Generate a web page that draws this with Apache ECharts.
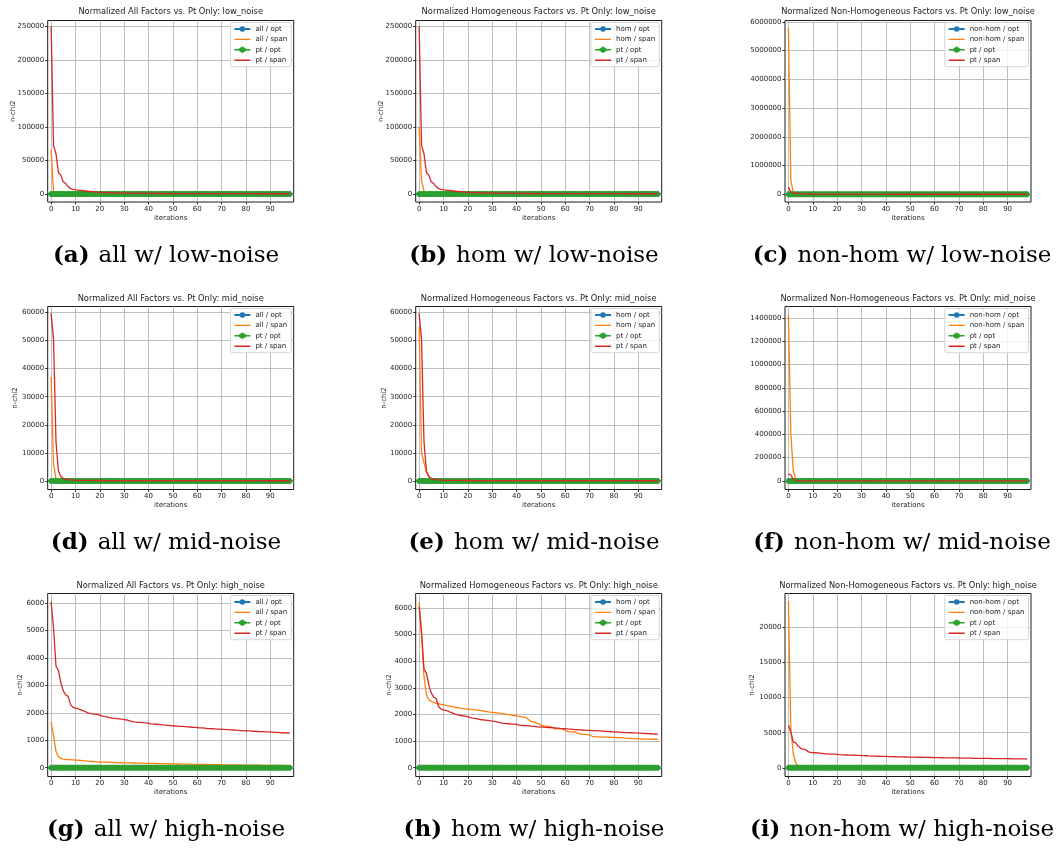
<!DOCTYPE html>
<html><head><meta charset="utf-8">
<script src="https://cdn.jsdelivr.net/npm/echarts@6/dist/echarts.min.js"></script>
<style>html,body{margin:0;padding:0;background:#fff}#c{width:1061px;height:852px}</style>
</head><body><div id="c"></div>
<script>
// ---------------- data ----------------
const iterations = [0,1,2,3,4,5,6,7,8,9,10,11,12,13,14,15,16,17,18,19,20,21,22,23,24,25,26,27,28,29,30,31,32,33,34,35,36,37,38,39,40,41,42,43,44,45,46,47,48,49,50,51,52,53,54,55,56,57,58,59,60,61,62,63,64,65,66,67,68,69,70,71,72,73,74,75,76,77,78,79,80,81,82,83,84,85,86,87,88,89,90,91,92,93,94,95,96,97,98];
const xTicks = [0,10,20,30,40,50,60,70,80,90];
const yTicksLow = [0,50000,100000,150000,200000,250000];
const yTicksNonHomLow = [0,1000000,2000000,3000000,4000000,5000000,6000000];
const yTicksMid = [0,10000,20000,30000,40000,50000,60000];
const yTicksNonHomMid = [0,200000,400000,600000,800000,1000000,1200000,1400000];
const yTicksHigh = [0,1000,2000,3000,4000,5000,6000];
const yTicksNonHomHigh = [0,5000,10000,15000,20000];

const factorOpt = [0,0,0,0,0,0,0,0,0,0,0,0,0,0,0,0,0,0,0,0,0,0,0,0,0,0,0,0,0,0,0,0,0,0,0,0,0,0,0,0,0,0,0,0,0,0,0,0,0,0,0,0,0,0,0,0,0,0,0,0,0,0,0,0,0,0,0,0,0,0,0,0,0,0,0,0,0,0,0,0,0,0,0,0,0,0,0,0,0,0,0,0,0,0,0,0,0,0,0];
const ptOpt = [0,0,0,0,0,0,0,0,0,0,0,0,0,0,0,0,0,0,0,0,0,0,0,0,0,0,0,0,0,0,0,0,0,0,0,0,0,0,0,0,0,0,0,0,0,0,0,0,0,0,0,0,0,0,0,0,0,0,0,0,0,0,0,0,0,0,0,0,0,0,0,0,0,0,0,0,0,0,0,0,0,0,0,0,0,0,0,0,0,0,0,0,0,0,0,0,0,0,0];

const ptSpanLow = [250000,72000,60000,32000,28000,18000,15500,11000,8000,6800,
 6000,5600,5200,4800,4400,4000,3700,3400,3100,2800,
 2500,2300,2100,1900,1750,1600,1500,1400,1300,1200,
 1150,1100,1050,1000,960,920,880,850,820,790,
 760,740,720,700,680,660,640,625,610,595,
 580,565,550,540,530,520,510,500,490,480,
 470,462,455,448,441,434,427,420,414,408,
 402,396,390,385,380,375,370,365,360,355,
 350,346,342,338,334,330,326,322,318,314,
 310,307,304,301,298,295,292,289,286];
const allSpanLow = [66000,3500,1500,1000,800,700,650,600,560,530,
 500,480,460,445,430,415,400,390,380,370,
 360,352,344,336,328,320,313,306,299,292,
 286,280,274,268,262,257,252,247,242,237,
 232,228,224,220,216,212,208,204,200,197,
 194,191,188,185,182,179,176,173,170,168,
 166,164,162,160,158,156,154,152,150,148,
 146,144,142,140,138,137,136,135,134,133,
 132,131,130,129,128,127,126,125,124,123,
 122,121,120,119,118,117,116,115,114];
const homSpanLow = [100000,20000,4000,1800,1200,1000,900,820,760,710,
 670,640,610,585,560,540,520,500,485,470,
 455,442,430,418,406,395,384,374,364,355,
 346,338,330,322,314,307,300,293,287,281,
 275,270,265,260,255,250,245,241,237,233,
 229,225,221,218,215,212,209,206,203,200,
 197,195,193,191,189,187,185,183,181,179,
 177,175,173,171,169,168,167,166,165,164,
 163,162,161,160,159,158,157,156,155,154,
 153,152,151,150,149,148,147,146,145];
const nonHomSpanLow = [5780000,480000,80000,22000,9000,6000,5000,4500,4100,3800,
 3500,3300,3100,2950,2800,2650,2500,2400,2300,2200,
 2100,2020,1940,1870,1800,1740,1680,1620,1570,1520,
 1470,1430,1390,1350,1310,1280,1250,1220,1190,1160,
 1130,1100,1080,1060,1040,1020,1000,980,960,940,
 920,905,890,875,860,845,830,815,800,790,
 780,770,760,750,740,730,720,710,700,692,
 684,676,668,660,652,645,638,631,624,617,
 610,604,598,592,586,580,575,570,565,560,
 555,550,545,540,535,530,525,520,515];

const ptSpanMid = [59700,50500,14000,3500,1600,900,600,430,330,270,
 230,205,190,178,168,160,153,147,142,137,
 133,129,126,123,120,117,114,112,110,108,
 106,104,102,100,98,96,95,94,93,92,
 91,90,89,88,87,86,85,84,83,82,
 81,80,79,78,77,76,75,74,73,72,
 71,70,69,69,68,68,67,67,66,66,
 65,65,64,64,63,63,62,62,61,61,
 60,60,59,59,58,58,57,57,56,56,
 55,55,54,54,53,53,52,52,51];
const allSpanMid = [37000,6000,700,350,250,200,170,150,135,125,
 118,112,107,103,99,95,92,89,86,83,
 80,78,76,74,72,70,68,66,64,62,
 60,59,58,57,56,55,54,53,52,51,
 50,49,48,47,46,45,44,43,42,41,
 40,40,39,39,38,38,37,37,36,36,
 35,35,34,34,33,33,32,32,31,31,
 30,30,30,29,29,29,28,28,28,27,
 27,27,26,26,26,25,25,25,24,24,
 24,23,23,23,22,22,22,21,21];
const homSpanMid = [55000,10000,6500,3000,1500,800,500,350,260,210,
 180,160,145,135,127,120,114,109,104,100,
 96,93,90,87,84,81,79,77,75,73,
 71,69,67,65,63,62,61,60,59,58,
 57,56,55,54,53,52,51,50,49,48,
 47,46,45,45,44,44,43,43,42,42,
 41,41,40,40,39,39,38,38,37,37,
 36,36,36,35,35,35,34,34,34,33,
 33,33,32,32,32,31,31,31,30,30,
 30,29,29,29,28,28,28,27,27];
const nonHomSpanMid = [1430000,400000,90000,14000,4000,2500,1900,1600,1400,1250,
 1150,1080,1020,970,920,880,840,800,770,740,
 710,690,670,650,630,610,595,580,565,550,
 540,530,520,510,500,490,480,470,462,454,
 446,438,430,422,415,408,401,394,388,382,
 376,370,365,360,355,350,345,340,336,332,
 328,324,320,316,312,308,304,300,297,294,
 291,288,285,282,279,276,273,270,268,266,
 264,262,260,258,256,254,252,250,248,246,
 244,242,240,238,236,234,232,230,228];

const ptSpanHigh = [6050,5100,3700,3550,3100,2800,2650,2600,2300,2200,
 2170,2150,2120,2080,2050,2000,1980,1960,1950,1940,
 1920,1880,1860,1850,1830,1810,1800,1790,1780,1770,
 1750,1740,1720,1690,1670,1665,1655,1650,1640,1635,
 1625,1600,1590,1585,1580,1570,1560,1555,1545,1535,
 1525,1520,1515,1510,1505,1500,1490,1485,1475,1470,
 1465,1455,1450,1440,1430,1425,1420,1415,1410,1405,
 1400,1395,1390,1385,1380,1375,1368,1362,1355,1350,
 1345,1340,1335,1330,1325,1320,1316,1312,1308,1304,
 1300,1295,1290,1285,1280,1275,1270,1265,1260];
const allSpanHigh = [1680,1150,600,400,340,315,305,298,292,286,
 280,272,264,256,248,238,232,226,220,214,
 208,205,202,199,196,193,190,187,184,182,
 180,178,176,174,172,170,168,166,164,162,
 160,158,156,154,152,150,148,146,144,142,
 140,138,136,134,132,130,128,126,124,123,
 122,120,119,118,117,115,114,113,112,110,
 108,107,106,105,104,103,102,100,98,97,
 96,95,94,93,92,91,90,89,88,87,
 86,85,84,83,82,81,80,79,78];
const homSpanHigh = [6200,5000,3430,2740,2550,2490,2450,2420,2400,2380,
 2360,2340,2320,2300,2280,2260,2250,2235,2220,2210,
 2200,2190,2180,2170,2160,2150,2135,2120,2105,2090,
 2080,2070,2058,2046,2034,2020,2005,1990,1975,1960,
 1945,1930,1915,1900,1880,1800,1740,1720,1680,1650,
 1600,1570,1560,1550,1545,1500,1460,1455,1455,1450,
 1400,1360,1345,1345,1340,1300,1270,1255,1250,1245,
 1230,1180,1165,1160,1155,1150,1148,1146,1144,1142,
 1140,1135,1130,1125,1120,1110,1104,1098,1092,1086,
 1080,1078,1076,1074,1072,1070,1069,1068,1067];
const nonHomSpanHigh = [23700,5500,2000,700,250,140,110,100,95,90,
 86,83,80,78,76,74,72,70,69,68,
 67,66,65,64,63,62,61,60,59,58,
 57,57,56,56,55,55,54,54,53,53,
 52,52,51,51,50,50,49,49,48,48,
 47,47,47,46,46,46,45,45,45,44,
 44,44,43,43,43,42,42,42,41,41,
 41,40,40,40,39,39,39,38,38,38,
 37,37,37,36,36,36,35,35,35,34,
 34,34,33,33,33,32,32,32,31];

// ---------------- panels ----------------
const panels = [
 {r:0,c:0,lab:'(a)',cap:'all w/ low-noise',f:'all',title:'Normalized All Factors vs. Pt Only: low_noise',span:allSpanLow,pt:ptSpanLow,yMin:-12000,yMax:258500,ticks:yTicksLow,yName:'n-chi2',gap:31},
 {r:0,c:1,lab:'(b)',cap:'hom w/ low-noise',f:'hom',title:'Normalized Homogeneous Factors vs. Pt Only: low_noise',span:homSpanLow,pt:ptSpanLow,yMin:-12000,yMax:258500,ticks:yTicksLow,yName:'n-chi2',gap:31},
 {r:0,c:2,lab:'(c)',cap:'non-hom w/ low-noise',f:'non-hom',title:'Normalized Non-Homogeneous Factors vs. Pt Only: low_noise',span:nonHomSpanLow,pt:ptSpanLow,yMin:-270000,yMax:6050000,ticks:yTicksNonHomLow,yName:'',gap:40},
 {r:1,c:0,lab:'(d)',cap:'all w/ mid-noise',f:'all',title:'Normalized All Factors vs. Pt Only: mid_noise',span:allSpanMid,pt:ptSpanMid,yMin:-3070,yMax:62140,ticks:yTicksMid,yName:'n-chi2',gap:29},
 {r:1,c:1,lab:'(e)',cap:'hom w/ mid-noise',f:'hom',title:'Normalized Homogeneous Factors vs. Pt Only: mid_noise',span:homSpanMid,pt:ptSpanMid,yMin:-3070,yMax:62140,ticks:yTicksMid,yName:'n-chi2',gap:28.5},
 {r:1,c:2,lab:'(f)',cap:'non-hom w/ mid-noise',f:'non-hom',title:'Normalized Non-Homogeneous Factors vs. Pt Only: mid_noise',span:nonHomSpanMid,pt:ptSpanMid,yMin:-74000,yMax:1500000,ticks:yTicksNonHomMid,yName:'',gap:40},
 {r:2,c:0,lab:'(g)',cap:'all w/ high-noise',f:'all',title:'Normalized All Factors vs. Pt Only: high_noise',span:allSpanHigh,pt:ptSpanHigh,yMin:-320,yMax:6350,ticks:yTicksHigh,yName:'n-chi2',gap:24},
 {r:2,c:1,lab:'(h)',cap:'hom w/ high-noise',f:'hom',title:'Normalized Homogeneous Factors vs. Pt Only: high_noise',span:homSpanHigh,pt:ptSpanHigh,yMin:-330,yMax:6540,ticks:yTicksHigh,yName:'n-chi2',gap:23},
 {r:2,c:2,lab:'(i)',cap:'non-hom w/ high-noise',f:'non-hom',title:'Normalized Non-Homogeneous Factors vs. Pt Only: high_noise',span:nonHomSpanHigh,pt:ptSpanHigh,yMin:-1230,yMax:24800,ticks:yTicksNonHomHigh,yName:'n-chi2',gap:29}
];
const cols = [{left:47.7,cx:166},{left:415.7,cx:534},{left:785,cx:902}];
const rows = [{top:20.5,h:181.5,tc:13.3,capC:257.5},{top:306.5,h:183,tc:300,capC:545},{top:593.5,h:183,tc:586.7,capC:832}];
const W = 246, CW = 1061;
const C = {blue:'#1f77b4',orange:'#ff7f0e',green:'#2ca02c',red:'#d62728'};
const plusPath = 'path://M3,0H7V3H10V7H7V10H3V7H0V3H3Z';
const lineIcon = 'path://M0,0L0,0ZM0,2.8H16V4.2H0ZM16,7L16,7Z';
const errIcon = 'path://M0,2.8H16V4.2H0ZM5.8,1H10.2V6H5.8ZM4.5,2H11.5V5H4.5ZM7.5,0H8.5V7H7.5Z';
const FS = 'DejaVu Sans';
const txt = '#222';
const pairs = arr => arr.map((v,i)=>[iterations[i], v]);

const grid=[],xAxis=[],yAxis=[],series=[],title=[],legend=[];
panels.forEach((p,i)=>{
  const col=cols[p.c], row=rows[p.r];
  grid.push({left:col.left,top:row.top,width:W,height:row.h,show:true,borderColor:'#000',borderWidth:0.9,backgroundColor:'transparent'});
  const axCommon = {
    axisLine:{show:false,onZero:false},
    axisTick:{show:true,length:2.5,lineStyle:{color:'#000',width:0.8}},
    splitLine:{show:true,lineStyle:{color:'#b8b8b8',width:0.9}},
    nameTextStyle:{fontSize:7,fontFamily:FS,color:txt},
    nameMoveOverlap:false
  };
  xAxis.push(Object.assign({},axCommon,{type:'value',gridIndex:i,min:-1.4,max:99.6,name:'iterations',nameLocation:'middle',nameGap:12.5,
    axisTick:Object.assign({},axCommon.axisTick,{customValues:xTicks}),
    axisLabel:{customValues:xTicks,fontSize:7,fontFamily:FS,color:txt,margin:3.5,formatter:v=>String(v)}}));
  yAxis.push(Object.assign({},axCommon,{type:'value',gridIndex:i,min:p.yMin,max:p.yMax,name:p.yName,nameLocation:'middle',nameGap:p.gap,
    axisTick:Object.assign({},axCommon.axisTick,{customValues:p.ticks}),
    axisLabel:{customValues:p.ticks,fontSize:7,fontFamily:FS,color:txt,margin:3.5,formatter:v=>String(v)}}));
  const names=[p.f+' / opt',p.f+' / span','pt / opt','pt / span'];
  series.push({type:'line',name:names[0],xAxisIndex:i,yAxisIndex:i,data:pairs(factorOpt),symbol:'circle',symbolSize:5,showSymbol:true,
    lineStyle:{color:C.blue,width:1.3},itemStyle:{color:C.blue},z:2,silent:true});
  series.push({type:'line',name:names[1],xAxisIndex:i,yAxisIndex:i,data:pairs(p.span),symbol:'none',
    lineStyle:{color:C.orange,width:1.3},itemStyle:{color:C.orange},z:3,silent:true});
  series.push({type:'line',name:names[2],xAxisIndex:i,yAxisIndex:i,data:pairs(ptOpt),symbol:plusPath,symbolSize:6,showSymbol:true,
    lineStyle:{color:C.green,width:1.3},itemStyle:{color:C.green},z:4,silent:true});
  series.push({type:'line',name:names[3],xAxisIndex:i,yAxisIndex:i,data:pairs(p.pt),symbol:'none',
    lineStyle:{color:C.red,width:1.3},itemStyle:{color:C.red},z:5,silent:true});
  title.push({text:p.title,left:col.left+W/2,top:row.tc-5,textAlign:'center',padding:0,
    textStyle:{fontSize:8.3,fontWeight:'normal',fontFamily:FS,color:txt}});
  title.push({text:'{b|'+p.lab+'}{n|'+p.cap+'}',left:col.cx,top:row.capC-13,textAlign:'center',padding:0,
    textStyle:{rich:{b:{fontSize:23,fontWeight:'bold',fontFamily:'DejaVu Serif',color:'#000',padding:[0,9,0,0]},
                     n:{fontSize:23,fontWeight:'normal',fontFamily:'DejaVu Serif',color:'#000'}}}});
  legend.push({orient:'vertical',right:CW-(col.left+W)+2.5,top:row.top+2,
    data:[{name:names[0]},{name:names[1],icon:lineIcon},{name:names[2],icon:errIcon},{name:names[3],icon:lineIcon}],
    itemWidth:16,itemHeight:7,itemGap:2.4,
    padding:[2.5,4,2.5,3],backgroundColor:'rgba(255,255,255,0.8)',borderColor:'#cccccc',borderWidth:0.8,borderRadius:2,
    selectedMode:false,textStyle:{fontSize:7,lineHeight:8,fontFamily:FS,color:txt}});
});

const chart = echarts.init(document.getElementById('c'),null,{renderer:'canvas'});
chart.setOption({animation:false,backgroundColor:'#fff',grid,xAxis,yAxis,series,title,legend,tooltip:{show:false}});
</script></body></html>
